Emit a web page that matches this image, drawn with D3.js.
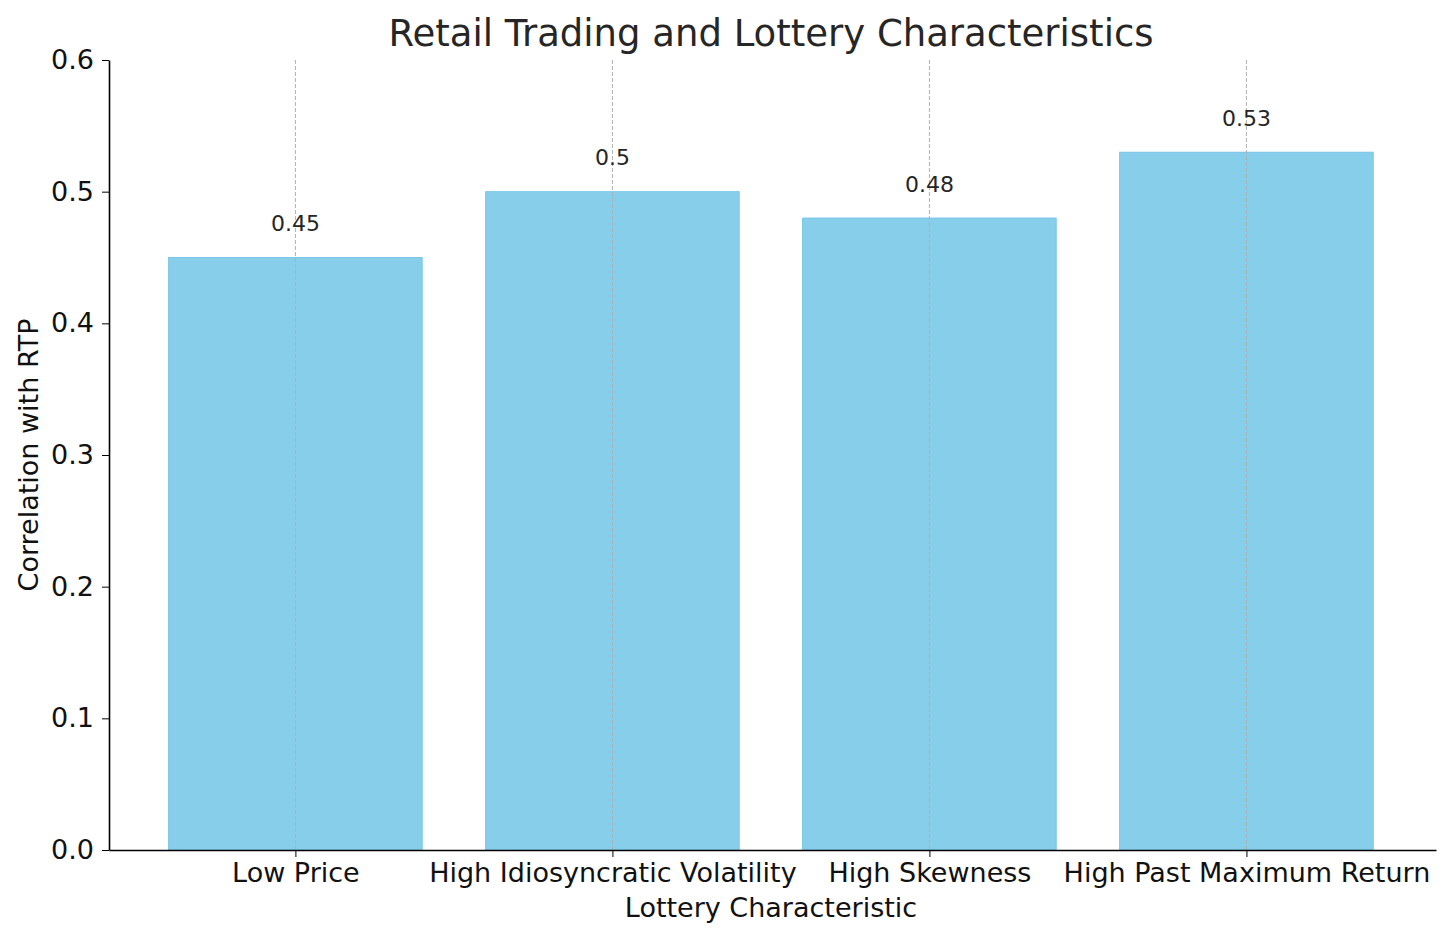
<!DOCTYPE html>
<html><head><meta charset="utf-8">
<script src="https://d3js.org/d3.v7.min.js"></script>
<style>body{margin:0;background:#fff}text{font-family:"DejaVu Sans",sans-serif}</style>
</head><body><svg id="c" width="1456" height="941"></svg>
<script>
const categories=["Low Price","High Idiosyncratic Volatility","High Skewness","High Past Maximum Return"];
const values=[0.45,0.5,0.48,0.53];
const yTicks=[0,0.1,0.2,0.3,0.4,0.5,0.6];
const svg=d3.select("#c");
const x=d3.scaleLinear().domain([-0.588,3.598]).range([109,1436]);
const y=d3.scaleLinear().domain([0,0.6]).range([850,60]);
const bw=x(0.8)-x(0);
svg.selectAll("rect.bar").data(values).join("rect")
 .attr("x",(d,i)=>x(i)-bw/2).attr("width",bw)
 .attr("y",d=>y(d)).attr("height",d=>y(0)-y(d))
 .attr("fill","#87CEEB").attr("stroke","#6fc0e6").attr("stroke-width",0.8);
svg.selectAll("line.grid").data(categories).join("line")
 .attr("x1",(d,i)=>x(i)).attr("x2",(d,i)=>x(i)).attr("y1",60).attr("y2",850)
 .attr("stroke","#b0b0b0").attr("stroke-width",1).attr("stroke-dasharray","4,2");
svg.selectAll("text.val").data(values).join("text")
 .attr("x",(d,i)=>x(i)).attr("y",d=>y(d+0.02)).attr("text-anchor","middle")
 .attr("font-size",22).attr("fill","#262626").text(d=>d);
const ya=svg.append("g").attr("transform","translate(109,0)")
 .call(d3.axisLeft(y).tickValues(yTicks).tickFormat(d3.format(".1f")).tickSize(7).tickSizeOuter(0).tickPadding(8));
ya.select(".domain").attr("stroke","#000").attr("stroke-width",1.6);
ya.selectAll("text").attr("font-size",27).attr("fill","#111").style("font-family","DejaVu Sans");
const xa=svg.append("g").attr("transform","translate(0,850)")
 .call(d3.axisBottom(x).tickValues([0,1,2,3]).tickFormat((d)=>categories[d]).tickSize(7).tickSizeOuter(0).tickPadding(6));
xa.select(".domain").attr("stroke","#000").attr("stroke-width",1.6);
xa.selectAll("text").attr("font-size",27).attr("fill","#111").style("font-family","DejaVu Sans");
svg.append("text").attr("x",771).attr("y",46).attr("text-anchor","middle").attr("font-size",37).attr("fill","#262626").text("Retail Trading and Lottery Characteristics");
svg.append("text").attr("x",771).attr("y",917).attr("text-anchor","middle").attr("font-size",27).attr("fill","#111").text("Lottery Characteristic");
svg.append("text").attr("transform","translate(38,455) rotate(-90)").attr("text-anchor","middle").attr("font-size",27).attr("fill","#111").text("Correlation with RTP");
</script></body></html>
